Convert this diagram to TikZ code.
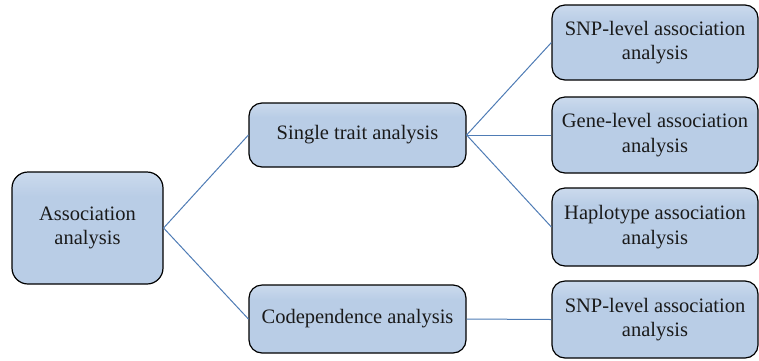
\documentclass[tikz,border=0pt]{standalone}
\usepackage{fontspec}
\setmainfont{Liberation Serif}
\definecolor{boxblue}{HTML}{B9CDE6}
\definecolor{boxtop}{HTML}{F4F7FC}
\definecolor{linkblue}{HTML}{4F7CB5}
\definecolor{txt}{HTML}{1A1A1A}
\pgfdeclareverticalshading{boxshade}{100bp}{color(0bp)=(boxblue); color(64bp)=(boxblue); color(100bp)=(boxtop)}
\tikzset{
  box/.style={draw=black, line width=1.2pt, rounded corners=13pt, shading=boxshade,
    align=center, text=txt, font=\fontsize{20.5}{24.6}\selectfont, inner sep=0pt},
  link/.style={draw=linkblue, line width=1pt}
}
\begin{document}
\begin{tikzpicture}[x=1pt,y=-1pt]
\useasboundingbox (0,0) rectangle (759,360);
\node[box, rounded corners=16pt, minimum width=151pt, minimum height=112pt] (assoc) at (87.5,228) {Association\\analysis};
\node[box, minimum width=217pt, minimum height=64pt] (single) at (357.5,135) {Single trait analysis};
\node[box, minimum width=217pt, minimum height=68pt] (codep) at (357.5,319) {Codependence analysis};
\node[box, minimum width=206pt, minimum height=75pt] (snpa) at (655,42.5) {SNP-level association\\analysis};
\node[box, minimum width=206pt, minimum height=76pt] (gene) at (655,135) {Gene-level association\\analysis};
\node[box, minimum width=206pt, minimum height=78pt] (haplo) at (655,227) {Haplotype association\\analysis};
\node[box, minimum width=206pt, minimum height=77pt] (snpb) at (655,319.5) {SNP-level association\\analysis};
\draw[link] (assoc.east) -- (single.west);
\draw[link] (assoc.east) -- (codep.west);
\draw[link] (single.east) -- (snpa.west);
\draw[link] (single.east) -- (gene.west);
\draw[link] (single.east) -- (haplo.west);
\draw[link] (codep.east) -- (snpb.west);
\end{tikzpicture}
\end{document}
